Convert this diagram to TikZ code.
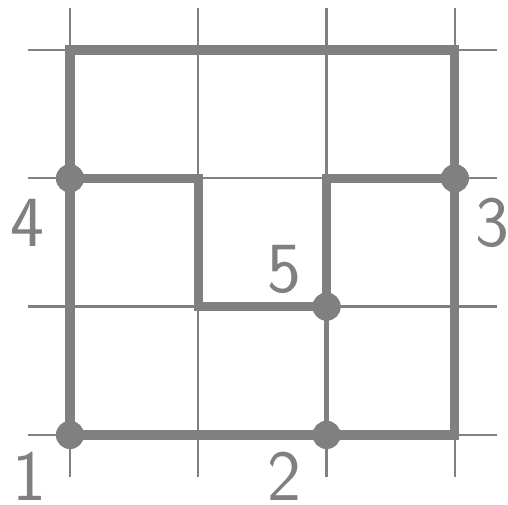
\documentclass[tikz,border=0pt]{standalone}
\usetikzlibrary{calc}
\begin{document}
\begin{tikzpicture}[x=64.15pt,y=64.15pt,
  gridline/.style={draw=gray,line width=1.15pt},
  thickline/.style={draw=gray,line width=4.6pt,line join=miter,line cap=rect},
  midline/.style={draw=gray,line width=2.3pt},
  dot/.style={circle,fill=gray,inner sep=0pt,minimum size=14pt},
  lab/.style={text=gray,font=\sffamily\fontsize{36}{40}\selectfont,inner sep=0pt}]
\useasboundingbox (-0.5456,-0.5456) rectangle (3.414,3.390);
% grid
\foreach \i in {0,1,2,3} {
  \draw[gridline] (\i,-0.33) -- (\i,3.33);
  \draw[gridline] (-0.33,\i) -- (3.33,\i);
}
% corners
\coordinate (c00) at (0,0);
\coordinate (c30) at (3,0);
\coordinate (c03) at (0,3);
\coordinate (c33) at (3,3);
\coordinate (c12) at (1,2);
\coordinate (c11) at (1,1);
\coordinate (c22) at (2,2);
% dots
\node[dot] (n1) at (0,0) {};
\node[dot] (n2) at (2,0) {};
\node[dot] (n3) at (3,2) {};
\node[dot] (n4) at (0,2) {};
\node[dot] (n5) at (2,1) {};
% paths
\draw[midline] (n5.center) -- (n2.center);
\draw[thickline] (c00) -- (c30) -- (c33) -- (c03) -- cycle;
\draw[thickline] (n4.center) -- (c12) -- (c11) -- (n5.center) -- (c22) -- (n3.center);
% dots on top
\foreach \n in {n1,n2,n3,n4,n5} \fill[gray] (\n) circle (7pt);
% labels
\node[lab] (l1) at ($(n1)+(-0.32,-0.325)$) {1};
\node[lab] (l2) at ($(n2)+(-0.33,-0.325)$) {2};
\node[lab] (l3) at ($(n3)+(0.29,-0.35)$) {3};
\node[lab] (l4) at ($(n4)+(-0.33,-0.35)$) {4};
\node[lab] (l5) at ($(n5)+(-0.33,0.29)$) {5};
\end{tikzpicture}
\end{document}
